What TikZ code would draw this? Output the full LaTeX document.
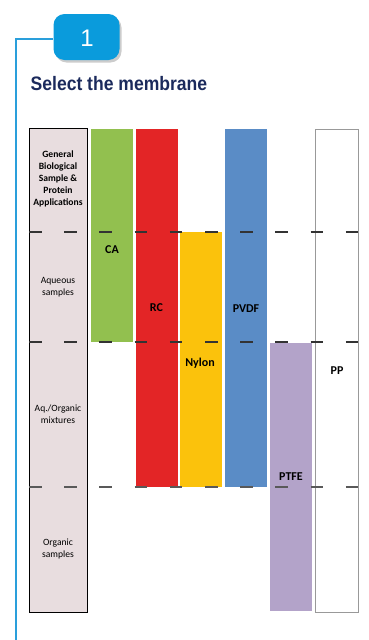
\documentclass[tikz,border=0pt]{standalone}
\usepackage{fontspec}
\setmainfont{Carlito}
\newfontfamily\titlefont{Liberation Sans}
\usetikzlibrary{shadows}
\definecolor{badgeblue}{HTML}{0A9BDC}
\definecolor{lineblue}{HTML}{2A9FDB}
\definecolor{navy}{HTML}{1B2A5C}
\definecolor{caGreen}{HTML}{92C04F}
\definecolor{rcRed}{HTML}{E32526}
\definecolor{nyYellow}{HTML}{FBC20C}
\definecolor{pvBlue}{HTML}{5A8CC6}
\definecolor{ptPurple}{HTML}{B3A3C9}
\definecolor{colPink}{HTML}{E8DDDF}
\tikzset{
  bar/.style={inner sep=0pt, minimum width=42pt, anchor=north west},
  barlabel/.style={anchor=base, inner sep=0pt, font=\fontsize{12}{14}\selectfont\bfseries},
  sidelabel/.style={align=center, inner sep=0pt, font=\fontsize{9.6}{12}\selectfont},
  sep/.style={draw=black!80, line width=1.4pt, dash pattern=on 12.5pt off 22.7pt},
}
\begin{document}
\begin{tikzpicture}[x=1pt,y=-1pt]
\useasboundingbox (0,0) rectangle (368,640);
% blue frame line
\coordinate (lineTop) at (16,39);
\coordinate (lineBot) at (16,640);
\node[fill=badgeblue, rounded corners=11pt, minimum width=66pt, minimum height=46pt, inner sep=0pt,
      drop shadow={opacity=0.4, shadow xshift=2pt, shadow yshift=-2.5pt}] (badge) at (86.5,37) {};
\draw[lineblue, line width=1.5pt] (lineBot) -- (lineTop) -- (badge.west |- lineTop);
\node[anchor=base, inner sep=0pt, text=white, font=\titlefont\fontsize{24}{26}\selectfont] (one) at (87,46.5) {1};
% title
\node[anchor=base west, inner sep=0pt, xscale=0.9, text=navy, font=\titlefont\bfseries\fontsize{19.5}{22}\selectfont] (title) at (30.5,90) {Select the membrane};
% left column
\node[draw=black, line width=1.3pt, fill=colPink, minimum width=58pt, minimum height=484pt, inner sep=0pt, anchor=north west] (col) at (29,128) {};
% bars
\node[bar, fill=caGreen, minimum height=212.5pt] (ca) at (91,129) {};
\node[bar, fill=rcRed, minimum height=357.5pt] (rc) at (135.5,129) {};
\node[bar, fill=nyYellow, minimum height=254.5pt] (nylon) at (180,232) {};
\node[bar, fill=pvBlue, minimum height=357.5pt] (pvdf) at (225,129) {};
\node[bar, fill=ptPurple, minimum height=268pt] (ptfe) at (270,343) {};
\node[bar, draw=black!40, line width=0.9pt, fill=white, minimum width=43pt, minimum height=483pt] (pp) at (315,129) {};
% side labels
\node[sidelabel, font=\fontsize{9.6}{12}\selectfont\bfseries] (l1) at (58,179) {General\\Biological\\Sample \&\\Protein\\Applications};
\node[sidelabel] (l2) at (58,287.5) {Aqueous\\samples};
\node[sidelabel] (l3) at (58,414.5) {Aq./Organic\\mixtures};
\node[sidelabel] (l4) at (58,549) {Organic\\samples};
% bar labels
\node[barlabel] (tca) at (112,253.3) {CA};
\node[barlabel] (trc) at (156.5,311.5) {RC};
\node[barlabel] (tny) at (200,366) {Nylon};
\node[barlabel] (tpv) at (246,312) {PVDF};
\node[barlabel] (tpt) at (291,480) {PTFE};
\node[barlabel] (tpp) at (337,374) {PP};
% dashed separators
\coordinate (s1a) at (29,232); \coordinate (s1b) at (358.5,232);
\coordinate (s2a) at (29,342); \coordinate (s2b) at (358.5,342);
\coordinate (s3a) at (29,487); \coordinate (s3b) at (358.5,487);
\draw[sep] (s1a) -- (s1b);
\draw[sep] (s2a) -- (s2b);
\draw[sep, draw=black!65] (s3a) -- (s3b);
\end{tikzpicture}
\end{document}
